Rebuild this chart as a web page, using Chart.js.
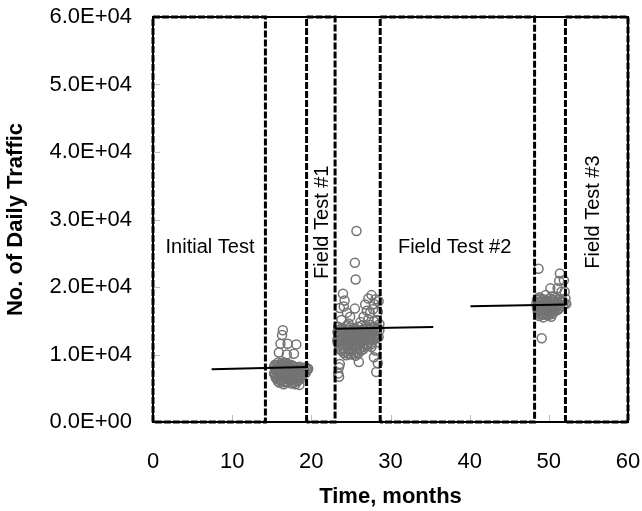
<!DOCTYPE html>
<html>
<head>
<meta charset="utf-8">
<script src="https://cdn.jsdelivr.net/npm/chart.js@4.4.1/dist/chart.umd.min.js"></script>
<style>
  html, body { margin: 0; padding: 0; background: #fff; }
  #wrap { position: relative; width: 642px; height: 511px; }
</style>
</head>
<body>
<div id="wrap"><canvas id="chart"></canvas></div>
<script>
// ── Axis setup ───────────────────────────────────────────────────────────
const yTickLabels = ['0.0E+00', '1.0E+04', '2.0E+04', '3.0E+04', '4.0E+04', '5.0E+04', '6.0E+04'];
const yMax = 60000;

// ── Test period boxes (months) ───────────────────────────────────────────
const regionNames = ['Initial Test', 'Field Test #1', 'Field Test #2', 'Field Test #3'];
const regionStarts = [0, 19.4, 28.7, 52.1];
const regionEnds = [14.2, 23.0, 48.2, 60];
const labelMonths = [7.2, 21.4, 38.1, 55.6];
const labelTraffic = [25900, 29600, 25900, 31100];
const labelRotated = [false, true, false, true];

// ── Daily traffic counts, first group ────────────────────────────────────
const groupAMonths = [
  16.4, 16.3, 16.1, 17.0, 18.1, 15.9, 16.9, 17.8,
  15.4, 15.8, 16.2, 16.6, 17.0, 17.4,
  15.6, 16.0, 16.4, 16.8, 17.2, 17.6,
  15.3, 15.7, 16.1, 16.5, 16.9, 17.3, 17.7, 18.1, 18.5, 18.9, 19.3, 19.6,
  15.5, 15.9, 16.3, 16.7, 17.1, 17.5, 17.9, 18.3, 18.7, 19.1, 19.4,
  15.5, 15.9, 16.3, 16.7, 17.1, 17.5, 17.9, 18.3, 18.7, 19.1, 19.5,
  15.3, 15.7, 16.1, 16.5, 16.9, 17.3, 17.7, 18.1, 18.5, 18.9, 19.3,
  15.4, 15.8, 16.2, 16.6, 17.0, 17.4, 17.8, 18.2, 18.6, 19.0,
  15.5, 15.9, 16.3, 16.7, 17.1, 17.5, 17.9, 18.3, 18.7,
  15.6, 16.0, 16.4, 16.8, 17.2, 17.6, 18.0, 18.4, 18.8,
  15.8, 16.2, 16.6, 17.0, 17.4, 17.8, 18.2,
  16.0, 16.5, 17.0, 17.5, 18.0, 18.5,
];
const groupATraffic = [
  13600, 12900, 11600, 11600, 11500, 10300, 10000, 10100,
  8500, 8800, 8700, 8800, 8600, 8500,
  8450, 8400, 8500, 8400, 8450, 8350,
  8200, 8000, 8300, 8100, 8200, 8000, 8300, 8100, 8200, 8000, 8100, 7900,
  7800, 7900, 7700, 7800, 7900, 7800, 7700, 7800, 7900, 7800, 7800,
  7600, 7400, 7600, 7500, 7400, 7600, 7500, 7400, 7600, 7500, 7700,
  7200, 7300, 7100, 7200, 7300, 7100, 7200, 7300, 7200, 7100, 7300,
  7000, 6800, 6900, 7000, 6800, 6900, 7000, 6800, 6900, 7100,
  6600, 6500, 6700, 6600, 6500, 6700, 6600, 6500, 6700,
  6400, 6200, 6300, 6400, 6200, 6300, 6400, 6200, 6500,
  6000, 6100, 5900, 6000, 6100, 5900, 6000,
  5800, 5600, 5900, 5700, 5600, 5500,
];

// ── Daily traffic counts, second group ───────────────────────────────────
const groupBMonths = [
  25.7, 25.5, 25.6,
  24.0, 24.2, 23.6, 24.1, 25.5, 24.9, 24.7, 23.8, 24.5,
  27.2, 27.9, 27.4, 28.3, 27.6, 28.1, 28.5, 26.8, 27.0, 27.8, 28.4, 26.6, 27.2, 27.9, 28.6, 26.2,
  23.4, 23.9, 24.4, 24.9, 25.4, 25.9, 26.4, 26.9, 27.4, 27.9, 28.4,
  23.6, 24.1, 24.6, 25.1, 25.6, 26.1, 26.6, 27.1, 27.6, 28.1, 28.6,
  23.3, 23.8, 24.3, 24.8, 25.3, 25.8, 26.3, 26.8, 27.3, 27.8, 28.3,
  23.5, 24.0, 24.5, 25.0, 25.5, 26.0, 26.5, 27.0, 27.5, 28.0,
  23.5, 24.0, 24.5, 25.0, 25.5, 26.0, 26.5, 27.0, 27.5, 28.0, 28.5,
  23.3, 23.8, 24.3, 24.8, 25.3, 25.8, 26.3, 26.8, 27.3, 27.8, 28.3,
  23.3, 23.8, 24.3, 24.8, 25.3, 25.8, 26.3, 26.8, 27.3, 27.8,
  23.6, 24.1, 24.6, 25.1, 25.6, 26.1, 26.6, 27.1, 27.6,
  23.5, 24.0, 24.5, 25.0, 25.5, 26.0, 26.5, 27.0,
  23.6, 24.1, 24.6, 25.1, 25.6, 26.1, 26.6,
  23.8, 24.3, 24.8, 25.3, 25.8, 26.3,
  24.1, 24.7, 25.3, 25.9,
  24.4, 25.0, 25.6,
  26.0, 27.6, 28.1, 27.9, 28.4, 28.2, 23.6, 23.5, 23.4, 23.5,
];
const groupBTraffic = [
  28300, 23600, 21100,
  19000, 18000, 16900, 17100, 16800, 15600, 14600, 15100, 16200,
  18300, 17500, 16100, 15100, 18800, 18200, 17900, 17400, 16500, 16700, 16300, 15600, 15200, 14900, 14500, 14800,
  14100, 13900, 14200, 14000, 13800, 14100, 14300, 14200, 14400, 14100, 14000,
  13700, 13600, 13700, 13600, 13700, 13600, 13700, 13800, 13900, 13700, 13600,
  13300, 13500, 13200, 13400, 13300, 13500, 13200, 13400, 13600, 13300, 13500,
  12900, 13000, 12900, 13000, 12900, 13000, 12900, 13100, 13000, 12900,
  12700, 12500, 12800, 12600, 12400, 12700, 12600, 12800, 12500, 12700, 12600,
  12200, 12300, 12200, 12300, 12200, 12300, 12200, 12300, 12200, 12300, 12400,
  11900, 12100, 11800, 12000, 11900, 12100, 11800, 12000, 11900, 12100,
  11500, 11600, 11500, 11600, 11500, 11600, 11500, 11600, 11500,
  11200, 11400, 11100, 11300, 11200, 11400, 11100, 11300,
  10800, 10900, 10800, 10900, 10800, 10900, 10800,
  10600, 10400, 10500, 10700, 10400, 10600,
  10200, 10100, 10200, 10100,
  9900, 10000, 9800,
  8900, 11100, 10600, 9600, 8700, 7400, 8600, 8100, 7200, 6700,
];

// ── Daily traffic counts, third group ────────────────────────────────────
const groupCMonths = [
  48.7, 51.4, 51.9, 51.3, 50.2, 51.1, 51.6, 52.0, 48.8, 49.6, 50.4, 52.2, 49.1,
  48.5, 48.9, 49.3, 49.7, 50.1, 50.5, 50.9, 51.3, 51.7, 52.1,
  48.6, 49.0, 49.4, 49.8, 50.2, 50.6, 51.0, 51.4, 51.8,
  48.4, 48.8, 49.2, 49.6, 50.0, 50.4, 50.8, 51.2, 51.6, 52.0,
  48.6, 49.0, 49.4, 49.8, 50.2, 50.6, 51.0, 51.4, 51.8,
  48.5, 48.9, 49.3, 49.7, 50.1, 50.5, 50.9, 51.3,
  48.7, 49.1, 49.5, 49.9, 50.3, 50.7, 51.1,
  48.6, 49.0, 49.4, 49.8, 50.2, 50.6,
  48.8, 49.2, 49.6, 50.0, 50.4,
  48.8, 49.3, 49.8, 50.3,
];
const groupCTraffic = [
  22700, 22000, 21000, 20900, 19800, 19800, 19300, 19300, 18500, 18800, 18600, 17500, 12400,
  18100, 18300, 18200, 18000, 18300, 18100, 18400, 18200, 18000, 18300,
  17800, 17900, 17800, 17900, 17800, 17900, 17800, 17900, 17800,
  17500, 17700, 17400, 17600, 17500, 17300, 17600, 17500, 17700, 17400,
  17200, 17100, 17200, 17100, 17200, 17100, 17200, 17100, 17200,
  16900, 16700, 17000, 16800, 16900, 16700, 17000, 16800,
  16600, 16500, 16600, 16500, 16600, 16500, 16600,
  16300, 16200, 16400, 16100, 16300, 16200,
  16000, 15900, 16000, 15900, 16000,
  15700, 15500, 15800, 15600,
];

// ── Trend lines ──────────────────────────────────────────────────────────
const trendAMonths = [7.4, 19.5];
const trendATraffic = [7800, 8150];
const trendBMonths = [23.0, 35.4];
const trendBTraffic = [13830, 14070];
const trendCMonths = [40.1, 52.1];
const trendCTraffic = [17150, 17390];

const FONT = 'Arial, "Liberation Sans", sans-serif';

function toPoints(xs, ys) {
  return xs.map((x, i) => ({ x, y: ys[i] }));
}

function scatterSet(xs, ys) {
  return {
    type: 'scatter',
    data: toPoints(xs, ys),
    showLine: false,
    pointStyle: 'circle',
    pointRadius: 4.5,
    pointBorderWidth: 1.5,
    pointBorderColor: '#737373',
    pointBackgroundColor: 'rgba(0,0,0,0)',
    order: 2,
  };
}

function trendSet(xs, ys) {
  return {
    type: 'line',
    data: toPoints(xs, ys),
    borderColor: '#000',
    borderWidth: 2,
    pointRadius: 0,
    tension: 0,
    order: 0,
  };
}

function boxSet(s, e) {
  return {
    type: 'line',
    data: [{ x: s, y: 0 }, { x: s, y: yMax }, { x: e, y: yMax }, { x: e, y: 0 }, { x: s, y: 0 }],
    borderColor: '#000',
    borderWidth: 3,
    borderDash: [7, 2],
    borderCapStyle: 'butt',
    borderJoinStyle: 'miter',
    pointRadius: 0,
    tension: 0,
    clip: false,
    order: 1,
  };
}

// Plot frame plus light inner tick marks
const framePlugin = {
  id: 'frame',
  beforeDatasetsDraw(chart) {
    const { ctx, chartArea: a, scales } = chart;
    ctx.save();
    ctx.strokeStyle = '#bdbdbd';
    ctx.lineWidth = 1;
    scales.x.ticks.forEach((t) => {
      const px = Math.round(scales.x.getPixelForValue(t.value)) + 0.5;
      ctx.beginPath(); ctx.moveTo(px, a.bottom); ctx.lineTo(px, a.bottom - 7); ctx.stroke();
    });
    scales.y.ticks.forEach((t) => {
      const py = Math.round(scales.y.getPixelForValue(t.value)) + 0.5;
      ctx.beginPath(); ctx.moveTo(a.left, py); ctx.lineTo(a.left + 7, py); ctx.stroke();
    });
    ctx.strokeStyle = '#000';
    ctx.lineWidth = 2;
    ctx.strokeRect(a.left, a.top, a.right - a.left, a.bottom - a.top);
    ctx.restore();
  },
};

// Region names placed in data coordinates
const regionLabelPlugin = {
  id: 'regionLabels',
  afterDatasetsDraw(chart) {
    const { ctx, scales } = chart;
    ctx.save();
    ctx.fillStyle = '#000';
    ctx.font = `20px ${FONT}`;
    ctx.textAlign = 'center';
    ctx.textBaseline = 'middle';
    regionNames.forEach((name, i) => {
      const px = scales.x.getPixelForValue(labelMonths[i]);
      const py = scales.y.getPixelForValue(labelTraffic[i]);
      ctx.save();
      ctx.translate(px, py);
      if (labelRotated[i]) ctx.rotate(-Math.PI / 2);
      ctx.fillText(name, 0, 0);
      ctx.restore();
    });
    ctx.restore();
  },
};

const datasets = [
  trendSet(trendAMonths, trendATraffic),
  trendSet(trendBMonths, trendBTraffic),
  trendSet(trendCMonths, trendCTraffic),
  ...regionStarts.map((s, i) => boxSet(s, regionEnds[i])),
  scatterSet(groupAMonths, groupATraffic),
  scatterSet(groupBMonths, groupBTraffic),
  scatterSet(groupCMonths, groupCTraffic),
];

new Chart(document.getElementById('chart').getContext('2d'), {
  type: 'scatter',
  data: { datasets },
  options: {
    responsive: true,
    maintainAspectRatio: false,
    animation: false,
    devicePixelRatio: 1,
    layout: { autoPadding: false, padding: { top: 17, right: 14, left: 0, bottom: 0 } },
    plugins: { legend: { display: false }, tooltip: { enabled: false } },
    scales: {
      x: {
        type: 'linear',
        min: 0,
        max: 60,
        ticks: { stepSize: 10, color: '#000', padding: 27, maxRotation: 0, font: { family: FONT, size: 22 } },
        grid: { display: false, drawTicks: false },
        border: { display: false },
        title: {
          display: true,
          text: 'Time, months',
          color: '#000',
          font: { family: FONT, size: 22, weight: 'bold' },
          padding: { top: 0, bottom: 1 },
        },
        afterFit(s) {
          s.height = 89;
          s.paddingLeft = 0;
          s.paddingRight = 0;
        },
      },
      y: {
        type: 'linear',
        min: 0,
        max: yMax,
        ticks: {
          stepSize: 10000,
          color: '#000',
          padding: 21,
          font: { family: FONT, size: 22 },
          callback: (v) => yTickLabels[Math.round(v / 10000)],
        },
        grid: { display: false, drawTicks: false },
        border: { display: false },
        title: {
          display: true,
          text: 'No. of Daily Traffic',
          color: '#000',
          font: { family: FONT, size: 22, weight: 'bold' },
          padding: { top: 3, bottom: 0 },
        },
        afterFit(s) {
          s.width = 153;
          s.paddingTop = 0;
          s.paddingBottom = 0;
        },
      },
    },
  },
  plugins: [framePlugin, regionLabelPlugin],
});
</script>
</body>
</html>
